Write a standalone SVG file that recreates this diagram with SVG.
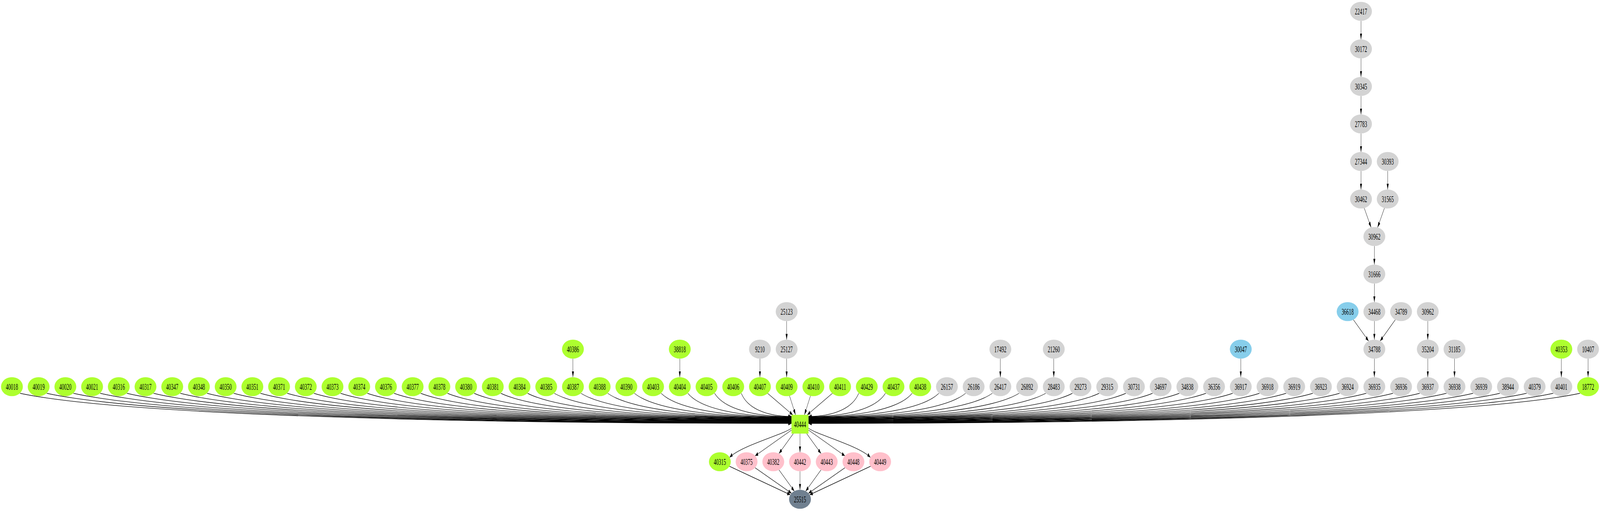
<svg xmlns="http://www.w3.org/2000/svg" width="7906" height="1307" viewBox="0 0 7906 1307" preserveAspectRatio="none" style="width:100vw;height:100vh;display:block">
<defs>
<marker id="ah" markerUnits="userSpaceOnUse" markerWidth="15" markerHeight="10" refX="15" refY="5" orient="auto" viewBox="0 0 15 10"><path d="M0,0L15,5L0,10z" fill="#000"/></marker>
<style>
.g{fill:#adff2f}.l{fill:#d3d3d3}.b{fill:#87ceeb}.p{fill:#ffc0cb}.s{fill:#708090}
text{font-family:"Liberation Serif","Times New Roman",serif;font-size:24px;text-anchor:middle;fill:#000}
#edges path{fill:none;stroke:#000;stroke-width:1.3;marker-end:url(#ah)}
</style>
</defs>
<rect width="7906" height="1307" fill="#fff"/>
<g id="edges">
<path d="M6725,53.3L6725,100.7"/>
<path d="M6725,149.3L6725,196.7"/>
<path d="M6725,245.3L6725,292.7"/>
<path d="M6725,341.3L6725,388.7"/>
<path d="M6725,437.3L6725,484.7"/>
<path d="M6857,437.3L6857,484.7"/>
<path d="M6741,532.2L6775,581.8"/>
<path d="M6841,532.2L6807,581.8"/>
<path d="M6791,629.3L6791,676.7"/>
<path d="M6791,725.3L6791,772.7"/>
<path d="M3887,821.3L3887,868.7"/>
<path d="M6687.4,817.7L6762.6,872.3"/>
<path d="M6791,821.3L6791,868.7"/>
<path d="M6894.6,817.7L6819.4,872.3"/>
<path d="M7055,821.3L7055,868.7"/>
<path d="M2831,917.3L2831,964.7"/>
<path d="M3359,917.3L3359,964.7"/>
<path d="M3755,917.3L3755,964.7"/>
<path d="M3887,917.3L3887,964.7"/>
<path d="M4943,917.3L4943,964.7"/>
<path d="M5207,917.3L5207,964.7"/>
<path d="M6131,917.3L6131,964.7"/>
<path d="M6791,917.3L6791,964.7"/>
<path d="M7055,917.3L7055,964.7"/>
<path d="M7187,917.3L7187,964.7"/>
<path d="M7715,917.3L7715,964.7"/>
<path d="M7847,917.3L7847,964.7"/>
<path d="M99,1006C556,1056 2005,1083 3911,1083"/>
<path d="M231,1006C673,1055.6 2071,1082.3 3911,1082.3"/>
<path d="M363,1006C789,1055.2 2137,1081.7 3911,1081.7"/>
<path d="M495,1006C905,1054.8 2203,1081 3911,1081"/>
<path d="M627,1006C1021,1054.3 2269,1080.3 3911,1080.3"/>
<path d="M759,1006C1137,1053.9 2335,1079.7 3911,1079.7"/>
<path d="M891,1006C1253,1053.4 2401,1079 3911,1079"/>
<path d="M1023,1006C1370,1053 2467,1078.3 3911,1078.3"/>
<path d="M1155,1006C1486,1052.6 2533,1077.7 3911,1077.7"/>
<path d="M1287,1006C1602,1052.2 2599,1077 3911,1077"/>
<path d="M1419,1006C1718,1051.7 2665,1076.3 3911,1076.3"/>
<path d="M1551,1006C1834,1051.3 2731,1075.7 3911,1075.7"/>
<path d="M1683,1006C1950,1050.9 2797,1075 3911,1075"/>
<path d="M1815,1006C2067,1050.4 2863,1074.3 3911,1074.3"/>
<path d="M1947,1006C2183,1050 2929,1073.7 3911,1073.7"/>
<path d="M2079,1006C2299,1049.6 2995,1073 3911,1073"/>
<path d="M2211,1006C2415,1049.1 3061,1072.3 3911,1072.3"/>
<path d="M2343,1006C2531,1048.7 3127,1071.7 3911,1071.7"/>
<path d="M2475,1006C2647,1048.3 3193,1071 3911,1071"/>
<path d="M2607,1006C2764,1047.8 3259,1070.3 3911,1070.3"/>
<path d="M2739,1006C2880,1047.4 3325,1069.7 3911,1069.7"/>
<path d="M2871,1006C2996,1047 3391,1069 3911,1069"/>
<path d="M3003,1006C3112,1046.5 3457,1068.3 3911,1068.3"/>
<path d="M3135,1006C3228,1046.1 3523,1067.7 3911,1067.7"/>
<path d="M3267,1006C3344,1045.6 3589,1067 3911,1067"/>
<path d="M3399,1006C3460,1045.2 3655,1066.3 3911,1066.3"/>
<path d="M3531,1006C3577,1044.8 3721,1065.7 3911,1065.7"/>
<path d="M3663,1006C3693,1044.3 3787,1065 3911,1065"/>
<path d="M3793,1006L3917,1061"/>
<path d="M3901,1012L3931,1061"/>
<path d="M4005,1012L3975,1061"/>
<path d="M4113,1006L3989,1061"/>
<path d="M4243,1006C4213,1044.3 4119,1065 3995,1065"/>
<path d="M4375,1006C4329,1044.8 4185,1065.7 3995,1065.7"/>
<path d="M4507,1006C4446,1045.2 4251,1066.3 3995,1066.3"/>
<path d="M4639,1006C4562,1045.6 4317,1067 3995,1067"/>
<path d="M4771,1006C4678,1046.1 4383,1067.7 3995,1067.7"/>
<path d="M4903,1006C4794,1046.5 4449,1068.3 3995,1068.3"/>
<path d="M5035,1006C4910,1047 4515,1069 3995,1069"/>
<path d="M5167,1006C5026,1047.4 4581,1069.7 3995,1069.7"/>
<path d="M5299,1006C5142,1047.8 4647,1070.3 3995,1070.3"/>
<path d="M5431,1006C5259,1048.3 4713,1071 3995,1071"/>
<path d="M5563,1006C5375,1048.7 4779,1071.7 3995,1071.7"/>
<path d="M5695,1006C5491,1049.1 4845,1072.3 3995,1072.3"/>
<path d="M5827,1006C5607,1049.6 4911,1073 3995,1073"/>
<path d="M5959,1006C5723,1050 4977,1073.7 3995,1073.7"/>
<path d="M6091,1006C5839,1050.4 5043,1074.3 3995,1074.3"/>
<path d="M6223,1006C5956,1050.9 5109,1075 3995,1075"/>
<path d="M6355,1006C6072,1051.3 5175,1075.7 3995,1075.7"/>
<path d="M6487,1006C6188,1051.7 5241,1076.3 3995,1076.3"/>
<path d="M6619,1006C6304,1052.2 5307,1077 3995,1077"/>
<path d="M6751,1006C6420,1052.6 5373,1077.7 3995,1077.7"/>
<path d="M6883,1006C6536,1053 5439,1078.3 3995,1078.3"/>
<path d="M7015,1006C6653,1053.4 5505,1079 3995,1079"/>
<path d="M7147,1006C6769,1053.9 5571,1079.7 3995,1079.7"/>
<path d="M7279,1006C6885,1054.3 5637,1080.3 3995,1080.3"/>
<path d="M7411,1006C7001,1054.8 5703,1081 3995,1081"/>
<path d="M7543,1006C7117,1055.2 5769,1081.7 3995,1081.7"/>
<path d="M7675,1006C7233,1055.6 5835,1082.3 3995,1082.3"/>
<path d="M7807,1006C7350,1056 5901,1083 3995,1083"/>
<path d="M3911,1095C3880,1110 3660,1140 3605,1170"/>
<path d="M3911,1100L3731,1166"/>
<path d="M3920,1109L3849,1160"/>
<path d="M3953,1109L3953,1157"/>
<path d="M3986,1109L4057,1160"/>
<path d="M3995,1100L4175,1166"/>
<path d="M3995,1095C4026,1110 4246,1140 4301,1170"/>
<path d="M3604,1192.5L3905,1265.5"/>
<path d="M3731,1196.3L3911,1261.7"/>
<path d="M3849,1201.7L3925,1256.3"/>
<path d="M3953,1205.3L3953,1252.7"/>
<path d="M4057,1201.7L3981,1256.3"/>
<path d="M4175,1196.3L3995,1261.7"/>
<path d="M4302,1192.5L4001,1265.5"/>
</g>
<g id="n22417"><ellipse class="l" cx="6725" cy="29" rx="54" ry="24.3"/><text x="6725" y="37">22417</text></g>
<g id="n30172"><ellipse class="l" cx="6725" cy="125" rx="54" ry="24.3"/><text x="6725" y="133">30172</text></g>
<g id="n30345"><ellipse class="l" cx="6725" cy="221" rx="54" ry="24.3"/><text x="6725" y="229">30345</text></g>
<g id="n27783"><ellipse class="l" cx="6725" cy="317" rx="54" ry="24.3"/><text x="6725" y="325">27783</text></g>
<g id="n27344"><ellipse class="l" cx="6725" cy="413" rx="54" ry="24.3"/><text x="6725" y="421">27344</text></g>
<g id="n30393"><ellipse class="l" cx="6857" cy="413" rx="54" ry="24.3"/><text x="6857" y="421">30393</text></g>
<g id="n30462"><ellipse class="l" cx="6725" cy="509" rx="54" ry="24.3"/><text x="6725" y="517">30462</text></g>
<g id="n31565"><ellipse class="l" cx="6857" cy="509" rx="54" ry="24.3"/><text x="6857" y="517">31565</text></g>
<g id="n30962a"><ellipse class="l" cx="6791" cy="605" rx="54" ry="24.3"/><text x="6791" y="613">30962</text></g>
<g id="n31666"><ellipse class="l" cx="6791" cy="701" rx="54" ry="24.3"/><text x="6791" y="709">31666</text></g>
<g id="n25123"><ellipse class="l" cx="3887" cy="797" rx="54" ry="24.3"/><text x="3887" y="805">25123</text></g>
<g id="n36618"><ellipse class="b" cx="6659" cy="797" rx="54" ry="24.3"/><text x="6659" y="805">36618</text></g>
<g id="n34468"><ellipse class="l" cx="6791" cy="797" rx="54" ry="24.3"/><text x="6791" y="805">34468</text></g>
<g id="n34789"><ellipse class="l" cx="6923" cy="797" rx="54" ry="24.3"/><text x="6923" y="805">34789</text></g>
<g id="n30962"><ellipse class="l" cx="7055" cy="797" rx="54" ry="24.3"/><text x="7055" y="805">30962</text></g>
<g id="n40386"><ellipse class="g" cx="2831" cy="893" rx="54" ry="24.3"/><text x="2831" y="901">40386</text></g>
<g id="n38818"><ellipse class="g" cx="3359" cy="893" rx="54" ry="24.3"/><text x="3359" y="901">38818</text></g>
<g id="n9210"><ellipse class="l" cx="3755" cy="893" rx="54" ry="24.3"/><text x="3755" y="901">9210</text></g>
<g id="n25127"><ellipse class="l" cx="3887" cy="893" rx="54" ry="24.3"/><text x="3887" y="901">25127</text></g>
<g id="n17492"><ellipse class="l" cx="4943" cy="893" rx="54" ry="24.3"/><text x="4943" y="901">17492</text></g>
<g id="n21260"><ellipse class="l" cx="5207" cy="893" rx="54" ry="24.3"/><text x="5207" y="901">21260</text></g>
<g id="n30047"><ellipse class="b" cx="6131" cy="893" rx="54" ry="24.3"/><text x="6131" y="901">30047</text></g>
<g id="n34788"><ellipse class="l" cx="6791" cy="893" rx="54" ry="24.3"/><text x="6791" y="901">34788</text></g>
<g id="n35204"><ellipse class="l" cx="7055" cy="893" rx="54" ry="24.3"/><text x="7055" y="901">35204</text></g>
<g id="n31185"><ellipse class="l" cx="7187" cy="893" rx="54" ry="24.3"/><text x="7187" y="901">31185</text></g>
<g id="n40353"><ellipse class="g" cx="7715" cy="893" rx="54" ry="24.3"/><text x="7715" y="901">40353</text></g>
<g id="n10407"><ellipse class="l" cx="7847" cy="893" rx="54" ry="24.3"/><text x="7847" y="901">10407</text></g>
<g id="n40018"><ellipse class="g" cx="59" cy="989" rx="54" ry="24.3"/><text x="59" y="997">40018</text></g>
<g id="n40019"><ellipse class="g" cx="191" cy="989" rx="54" ry="24.3"/><text x="191" y="997">40019</text></g>
<g id="n40020"><ellipse class="g" cx="323" cy="989" rx="54" ry="24.3"/><text x="323" y="997">40020</text></g>
<g id="n40021"><ellipse class="g" cx="455" cy="989" rx="54" ry="24.3"/><text x="455" y="997">40021</text></g>
<g id="n40316"><ellipse class="g" cx="587" cy="989" rx="54" ry="24.3"/><text x="587" y="997">40316</text></g>
<g id="n40317"><ellipse class="g" cx="719" cy="989" rx="54" ry="24.3"/><text x="719" y="997">40317</text></g>
<g id="n40347"><ellipse class="g" cx="851" cy="989" rx="54" ry="24.3"/><text x="851" y="997">40347</text></g>
<g id="n40348"><ellipse class="g" cx="983" cy="989" rx="54" ry="24.3"/><text x="983" y="997">40348</text></g>
<g id="n40350"><ellipse class="g" cx="1115" cy="989" rx="54" ry="24.3"/><text x="1115" y="997">40350</text></g>
<g id="n40351"><ellipse class="g" cx="1247" cy="989" rx="54" ry="24.3"/><text x="1247" y="997">40351</text></g>
<g id="n40371"><ellipse class="g" cx="1379" cy="989" rx="54" ry="24.3"/><text x="1379" y="997">40371</text></g>
<g id="n40372"><ellipse class="g" cx="1511" cy="989" rx="54" ry="24.3"/><text x="1511" y="997">40372</text></g>
<g id="n40373"><ellipse class="g" cx="1643" cy="989" rx="54" ry="24.3"/><text x="1643" y="997">40373</text></g>
<g id="n40374"><ellipse class="g" cx="1775" cy="989" rx="54" ry="24.3"/><text x="1775" y="997">40374</text></g>
<g id="n40376"><ellipse class="g" cx="1907" cy="989" rx="54" ry="24.3"/><text x="1907" y="997">40376</text></g>
<g id="n40377"><ellipse class="g" cx="2039" cy="989" rx="54" ry="24.3"/><text x="2039" y="997">40377</text></g>
<g id="n40378"><ellipse class="g" cx="2171" cy="989" rx="54" ry="24.3"/><text x="2171" y="997">40378</text></g>
<g id="n40380"><ellipse class="g" cx="2303" cy="989" rx="54" ry="24.3"/><text x="2303" y="997">40380</text></g>
<g id="n40381"><ellipse class="g" cx="2435" cy="989" rx="54" ry="24.3"/><text x="2435" y="997">40381</text></g>
<g id="n40384"><ellipse class="g" cx="2567" cy="989" rx="54" ry="24.3"/><text x="2567" y="997">40384</text></g>
<g id="n40385"><ellipse class="g" cx="2699" cy="989" rx="54" ry="24.3"/><text x="2699" y="997">40385</text></g>
<g id="n40387"><ellipse class="g" cx="2831" cy="989" rx="54" ry="24.3"/><text x="2831" y="997">40387</text></g>
<g id="n40388"><ellipse class="g" cx="2963" cy="989" rx="54" ry="24.3"/><text x="2963" y="997">40388</text></g>
<g id="n40390"><ellipse class="g" cx="3095" cy="989" rx="54" ry="24.3"/><text x="3095" y="997">40390</text></g>
<g id="n40403"><ellipse class="g" cx="3227" cy="989" rx="54" ry="24.3"/><text x="3227" y="997">40403</text></g>
<g id="n40404"><ellipse class="g" cx="3359" cy="989" rx="54" ry="24.3"/><text x="3359" y="997">40404</text></g>
<g id="n40405"><ellipse class="g" cx="3491" cy="989" rx="54" ry="24.3"/><text x="3491" y="997">40405</text></g>
<g id="n40406"><ellipse class="g" cx="3623" cy="989" rx="54" ry="24.3"/><text x="3623" y="997">40406</text></g>
<g id="n40407"><ellipse class="g" cx="3755" cy="989" rx="54" ry="24.3"/><text x="3755" y="997">40407</text></g>
<g id="n40409"><ellipse class="g" cx="3887" cy="989" rx="54" ry="24.3"/><text x="3887" y="997">40409</text></g>
<g id="n40410"><ellipse class="g" cx="4019" cy="989" rx="54" ry="24.3"/><text x="4019" y="997">40410</text></g>
<g id="n40411"><ellipse class="g" cx="4151" cy="989" rx="54" ry="24.3"/><text x="4151" y="997">40411</text></g>
<g id="n40429"><ellipse class="g" cx="4283" cy="989" rx="54" ry="24.3"/><text x="4283" y="997">40429</text></g>
<g id="n40437"><ellipse class="g" cx="4415" cy="989" rx="54" ry="24.3"/><text x="4415" y="997">40437</text></g>
<g id="n40438"><ellipse class="g" cx="4547" cy="989" rx="54" ry="24.3"/><text x="4547" y="997">40438</text></g>
<g id="n26157"><ellipse class="l" cx="4679" cy="989" rx="54" ry="24.3"/><text x="4679" y="997">26157</text></g>
<g id="n26186"><ellipse class="l" cx="4811" cy="989" rx="54" ry="24.3"/><text x="4811" y="997">26186</text></g>
<g id="n26417"><ellipse class="l" cx="4943" cy="989" rx="54" ry="24.3"/><text x="4943" y="997">26417</text></g>
<g id="n26892"><ellipse class="l" cx="5075" cy="989" rx="54" ry="24.3"/><text x="5075" y="997">26892</text></g>
<g id="n28483"><ellipse class="l" cx="5207" cy="989" rx="54" ry="24.3"/><text x="5207" y="997">28483</text></g>
<g id="n29273"><ellipse class="l" cx="5339" cy="989" rx="54" ry="24.3"/><text x="5339" y="997">29273</text></g>
<g id="n29315"><ellipse class="l" cx="5471" cy="989" rx="54" ry="24.3"/><text x="5471" y="997">29315</text></g>
<g id="n30731"><ellipse class="l" cx="5603" cy="989" rx="54" ry="24.3"/><text x="5603" y="997">30731</text></g>
<g id="n34697"><ellipse class="l" cx="5735" cy="989" rx="54" ry="24.3"/><text x="5735" y="997">34697</text></g>
<g id="n34838"><ellipse class="l" cx="5867" cy="989" rx="54" ry="24.3"/><text x="5867" y="997">34838</text></g>
<g id="n36356"><ellipse class="l" cx="5999" cy="989" rx="54" ry="24.3"/><text x="5999" y="997">36356</text></g>
<g id="n36917"><ellipse class="l" cx="6131" cy="989" rx="54" ry="24.3"/><text x="6131" y="997">36917</text></g>
<g id="n36918"><ellipse class="l" cx="6263" cy="989" rx="54" ry="24.3"/><text x="6263" y="997">36918</text></g>
<g id="n36919"><ellipse class="l" cx="6395" cy="989" rx="54" ry="24.3"/><text x="6395" y="997">36919</text></g>
<g id="n36923"><ellipse class="l" cx="6527" cy="989" rx="54" ry="24.3"/><text x="6527" y="997">36923</text></g>
<g id="n36924"><ellipse class="l" cx="6659" cy="989" rx="54" ry="24.3"/><text x="6659" y="997">36924</text></g>
<g id="n36935"><ellipse class="l" cx="6791" cy="989" rx="54" ry="24.3"/><text x="6791" y="997">36935</text></g>
<g id="n36936"><ellipse class="l" cx="6923" cy="989" rx="54" ry="24.3"/><text x="6923" y="997">36936</text></g>
<g id="n36937"><ellipse class="l" cx="7055" cy="989" rx="54" ry="24.3"/><text x="7055" y="997">36937</text></g>
<g id="n36938"><ellipse class="l" cx="7187" cy="989" rx="54" ry="24.3"/><text x="7187" y="997">36938</text></g>
<g id="n36939"><ellipse class="l" cx="7319" cy="989" rx="54" ry="24.3"/><text x="7319" y="997">36939</text></g>
<g id="n38944"><ellipse class="l" cx="7451" cy="989" rx="54" ry="24.3"/><text x="7451" y="997">38944</text></g>
<g id="n40379"><ellipse class="l" cx="7583" cy="989" rx="54" ry="24.3"/><text x="7583" y="997">40379</text></g>
<g id="n40401"><ellipse class="l" cx="7715" cy="989" rx="54" ry="24.3"/><text x="7715" y="997">40401</text></g>
<g id="n18772"><ellipse class="g" cx="7847" cy="989" rx="54" ry="24.3"/><text x="7847" y="997">18772</text></g>
<g id="n40444"><rect class="g" x="3911" y="1061" width="84" height="48"/><text x="3953" y="1093">40444</text></g>
<g id="n40315"><ellipse class="g" cx="3557" cy="1181" rx="54" ry="24.3"/><text x="3557" y="1189">40315</text></g>
<g id="n40375"><ellipse class="p" cx="3689" cy="1181" rx="54" ry="24.3"/><text x="3689" y="1189">40375</text></g>
<g id="n40382"><ellipse class="p" cx="3821" cy="1181" rx="54" ry="24.3"/><text x="3821" y="1189">40382</text></g>
<g id="n40442"><ellipse class="p" cx="3953" cy="1181" rx="54" ry="24.3"/><text x="3953" y="1189">40442</text></g>
<g id="n40443"><ellipse class="p" cx="4085" cy="1181" rx="54" ry="24.3"/><text x="4085" y="1189">40443</text></g>
<g id="n40448"><ellipse class="p" cx="4217" cy="1181" rx="54" ry="24.3"/><text x="4217" y="1189">40448</text></g>
<g id="n40449"><ellipse class="p" cx="4349" cy="1181" rx="54" ry="24.3"/><text x="4349" y="1189">40449</text></g>
<g id="n25515"><ellipse class="s" cx="3953" cy="1277" rx="54" ry="24.3"/><text x="3953" y="1285">25515</text></g>
</svg>
